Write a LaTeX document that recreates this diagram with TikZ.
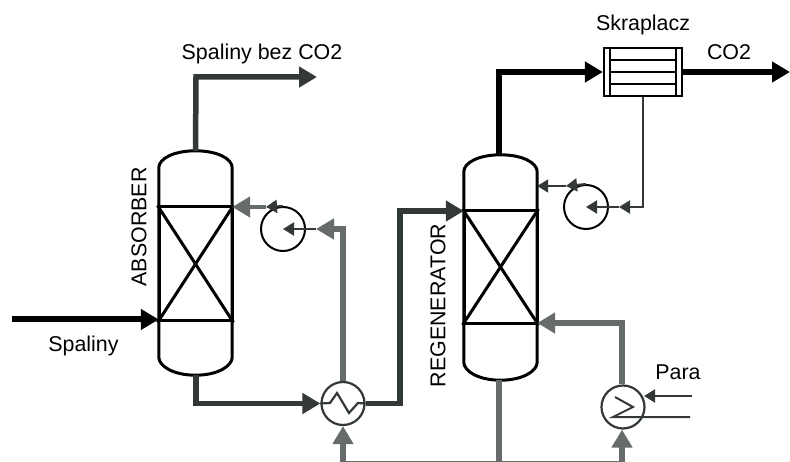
\documentclass[tikz,border=0pt]{standalone}
\usepackage{fontspec}
\setmainfont{Liberation Sans}
\usetikzlibrary{positioning,arrows.meta}
\definecolor{flowgray}{HTML}{666B6B}
\definecolor{flowdark}{HTML}{333838}
\tikzset{
  column/.style={rectangle, minimum width=73pt, inner sep=0pt},
  packing/.style={rectangle, draw, line width=3pt, minimum width=73pt, inner sep=0pt},
  pump/.style={circle, draw, line width=2pt, minimum size=44pt, inner sep=0pt},
  exchanger/.style={circle, draw=flowdark, line width=2.2pt, minimum size=43pt, inner sep=0pt},
  tube/.style={rectangle, draw, line width=2.2pt, inner sep=0pt},
  lab/.style={font=\fontsize{21.4}{25}\selectfont, inner sep=0pt},
  bigtip/.style={-{Triangle[length=18pt,width=20pt]}},
  smalltip/.style={-{Triangle[length=11pt,width=13pt]}},
  gas/.style={bigtip, line width=6pt, black},
  hot/.style={bigtip, line width=5.5pt, flowdark},
  lean/.style={bigtip, line width=5.5pt, flowgray},
  thin flow/.style={smalltip, line width=2pt, flowdark},
}
\begin{document}
\begin{tikzpicture}[x=1pt,y=-1pt]
  \useasboundingbox (0,0) rectangle (790,462);

  % columns
  \node[column, minimum height=224pt] (absorber) at (195.5,263) {};
  \node[column, minimum height=225pt] (regenerator) at (500.5,267.5) {};
  \node[packing, minimum height=114pt] (packA) at (absorber |- 0,264) {};
  \node[packing, minimum height=113pt] (packR) at (regenerator |- 0,267) {};
  \foreach \col/\pack in {absorber/packA,regenerator/packR} {
    \draw[line width=3pt] (\col.north) .. controls +(-22,0) and +(0,-9) .. ([yshift=-17pt]\col.north west)
      -- ([yshift=18pt]\col.south west) .. controls +(0,9) and +(-22,0) .. (\col.south)
      .. controls +(22,0) and +(0,9) .. ([yshift=18pt]\col.south east)
      -- ([yshift=-17pt]\col.north east) .. controls +(0,-9) and +(22,0) .. (\col.north);
    \draw[line width=3pt] (\pack.north west) -- (\pack.south east);
    \draw[line width=3pt] (\pack.north east) -- (\pack.south west);
  }

  % pumps and exchangers
  \node[pump] (pumpA) at (283,229) {};
  \node[pump] (pumpR) at (586,207) {};
  \node[exchanger] (hxMain) at (343,403.5) {};
  \node[exchanger] (hxPara) at (623,407) {};
  \draw[line width=2.2pt, flowdark] (hxMain.west) -- (330,403) -- (337,393) -- (349,413) -- (358,403) -- (hxMain.east);

  % condenser
  \node[tube, minimum width=78pt, minimum height=48pt] (condenser) at (643,72) {};
  \draw[line width=2.2pt] ([xshift=7pt]condenser.north west) -- ([xshift=7pt]condenser.south west);
  \draw[line width=2.2pt] ([xshift=-7pt]condenser.north east) -- ([xshift=-7pt]condenser.south east);
  \foreach \yy in {-12,0,12} {
    \draw[line width=2.2pt] ([xshift=7pt,yshift=\yy pt]condenser.west) -- ([xshift=-7pt,yshift=\yy pt]condenser.east);
  }

  % labels
  \node[lab] (labClean) at (262,54) {Spaliny bez CO2};
  \node[lab] (labCond) at (643,25) {Skraplacz};
  \node[lab] (labCO) at (729,52) {CO2};
  \node[lab] (labFlue) at (83.5,346) {Spaliny};
  \node[lab] (labPara) at (678,372) {Para};
  \node[lab, rotate=90] (labAbs) at (139,227) {ABSORBER};
  \node[lab, rotate=90] (labReg) at (438,305.5) {REGENERATOR};

  % helper points
  \coordinate (fluein) at (12,319.5);
  \coordinate (cleanend) at (317,77);
  \coordinate (regtop) at (499,155);
  \coordinate (regbot) at (499,380);
  \coordinate (co2end) at (790,72);
  \coordinate (absbot) at (196,375);
  \coordinate (busL) at (343,463.5);
  \coordinate (busM) at (499,463.5);
  \coordinate (busR) at (622,463.5);
  \coordinate (midA) at (266,207);
  \coordinate (feedA) at (316,229);
  \coordinate (midR) at (566,186);
  \coordinate (feedR) at (619,207);
  \coordinate (paraUp) at (692,396);
  \coordinate (paraLow) at (690,417);

  % black and dark streams
  \draw[gas] (fluein) -- (fluein -| absorber.west);
  \draw[gas] (regtop) -- (499,72) -- (condenser.west);
  \draw[gas] (condenser.east) -- (co2end);
  \draw[hot] (absorber.north) -- (196,77) -- (cleanend);
  \draw[hot] (absbot) -- (absbot |- hxMain) -- (hxMain.west);
  \draw[hot] (hxMain.east) -- (400,403.5) -- (400,211) -- (regenerator.west |- 0,211);

  % grey streams
  \draw[line width=5.5pt, flowgray] (busL) -- (busR);
  \draw[lean] (busL) -- (hxMain.south);
  \draw[lean] (busR) -- (hxPara.south -| busR);
  \draw[line width=5.5pt, flowgray] (regbot) -- (busM);
  \draw[thin flow] (feedA) -- (pumpA.center);
  \draw[lean] (hxMain.north) -- (343,229) -- (feedA);
  \draw[lean] (hxPara.north -| 622,0) -- (622,323) -- (regenerator.east |- 0,323);
  \draw[thin flow] (pumpA.north) -- (midA);
  \draw[lean, line width=4.5pt] (midA) -- (absorber.east |- midA);

  % thin streams
  \draw[thin flow] (condenser.south) -- (643,207) -- (feedR);
  \draw[thin flow] (feedR) -- (pumpR.center);
  \draw[thin flow] (pumpR.north) -- (midR);
  \draw[thin flow] (midR) -- (regenerator.east |- midR);
  \draw[thin flow] (paraUp) -- (644,396);
  \draw[line width=2pt, flowdark] (615,397) -- (633,407) -- (613,417) -- (paraLow);
\end{tikzpicture}
\end{document}
